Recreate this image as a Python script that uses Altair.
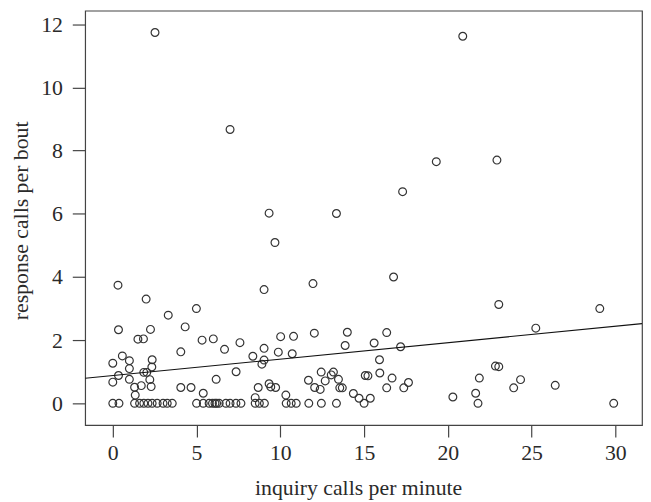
import altair as alt
import pandas as pd

# inquiry calls per minute (x) and response calls per bout (y)
x_vals = [
    0.31, 1.99, 3.31, 4.99, 0.34, 2.25, 1.50, 1.83, 4.32, 5.33, 6.00, 6.67, 4.06, 0.57, 0.00,
    0.99, 2.35, 0.99, 2.33, 1.85, 2.03, 0.34, 0.00, 0.99, 2.21, 1.30, 1.70, 2.29, 1.34, 4.06,
    4.67, 5.40, 6.17,
    9.03, 11.95, 7.59, 10.02, 10.79, 12.03, 14.00, 13.87, 9.03, 8.36, 9.88, 10.71, 9.03, 8.90,
    7.36, 12.44, 13.17, 13.04, 11.68, 12.68, 13.47, 12.05, 12.38, 13.55, 13.70, 15.07, 14.36,
    14.70, 8.68, 9.33, 9.43, 9.72, 8.50, 10.33,
    16.76, 23.04, 16.35, 15.60, 17.18, 15.92, 15.23, 15.94, 16.67, 16.35, 17.37, 17.65, 15.37,
    20.30, 21.66, 21.88, 22.84, 23.04,
    29.07, 25.25, 24.34, 23.93, 26.41,
    2.52, 7.00, 9.33, 13.35, 9.68, 20.89, 19.31, 22.93, 17.30,
    # zero responses
    0.00, 0.37, 1.30, 1.60, 1.85, 2.10, 2.35, 2.65, 3.00, 3.25, 3.55, 5.00, 5.40, 5.75, 5.95,
    6.10, 6.20, 6.35, 6.75, 7.00, 7.35, 7.65, 8.50, 8.75, 9.05, 10.35, 10.65, 10.95, 11.70,
    12.45, 13.35, 15.00, 21.80, 29.90,
]
y_vals = [
    3.74, 3.30, 2.79, 3.00, 2.33, 2.34, 2.03, 2.04, 2.42, 2.00, 2.04, 1.71, 1.63, 1.50, 1.27,
    1.35, 1.38, 1.10, 1.15, 0.98, 0.98, 0.88, 0.67, 0.76, 0.75, 0.51, 0.56, 0.53, 0.26, 0.50,
    0.50, 0.32, 0.76,
    3.60, 3.79, 1.92, 2.11, 2.12, 2.22, 2.25, 1.83, 1.74, 1.49, 1.62, 1.57, 1.37, 1.24,
    1.00, 0.99, 0.99, 0.90, 0.73, 0.71, 0.76, 0.50, 0.44, 0.49, 0.49, 0.88, 0.31,
    0.16, 0.50, 0.62, 0.52, 0.50, 0.18, 0.26,
    4.00, 3.13, 2.24, 1.91, 1.79, 1.38, 0.87, 0.96, 0.80, 0.49, 0.49, 0.66, 0.16,
    0.20, 0.32, 0.80, 1.18, 1.16,
    3.00, 2.38, 0.75, 0.49, 0.57,
    11.74, 8.67, 6.02, 6.01, 5.09, 11.62, 7.65, 7.70, 6.70,
    0, 0, 0, 0, 0, 0, 0, 0, 0, 0, 0, 0, 0, 0, 0,
    0, 0, 0, 0, 0, 0, 0, 0, 0, 0, 0, 0, 0,
    0, 0, 0, 0, 0, 0,
]

x_ticks = [0, 5, 10, 15, 20, 25, 30]
y_ticks = [0, 2, 4, 6, 8, 10, 12]
x_domain = [-1.65, 31.59]
y_domain = [-0.69, 12.43]

fit_intercept = 0.88
fit_slope = 0.052

pts = pd.DataFrame({"x": x_vals, "y": y_vals})
fit = pd.DataFrame({
    "x": x_domain,
    "y": [fit_intercept + fit_slope * v for v in x_domain],
})

serif = "Liberation Serif"
ink = "#2a2a2a"

xs = alt.Scale(domain=x_domain, nice=False, zero=False)
ys = alt.Scale(domain=y_domain, nice=False, zero=False)

x_axis = alt.Axis(
    title="inquiry calls per minute", values=x_ticks, grid=False, domain=False,
    tickSize=12, tickWidth=1.2, tickColor="#444", labelPadding=6,
    labelFont=serif, labelFontSize=22, labelColor=ink,
    titleFont=serif, titleFontSize=22, titleFontWeight="normal", titleColor=ink,
    titleX=276, titleY=70, titleBaseline="alphabetic",
)
y_axis = alt.Axis(
    title="response calls per bout", values=y_ticks, grid=False, domain=False,
    tickSize=13, tickWidth=1.2, tickColor="#444", labelPadding=10,
    labelFont=serif, labelFontSize=22, labelColor=ink,
    titleFont=serif, titleFontSize=22, titleFontWeight="normal", titleColor=ink,
    titleX=-58, titleY=212, titleBaseline="alphabetic", titleAngle=-90,
)

points = alt.Chart(pts).mark_point(
    shape="circle", filled=False, size=62, stroke="#333", strokeWidth=1.2, opacity=1
).encode(
    x=alt.X("x:Q", scale=xs, axis=x_axis),
    y=alt.Y("y:Q", scale=ys, axis=y_axis),
)

line = alt.Chart(fit).mark_line(color="#111", strokeWidth=1.1, clip=True).encode(
    x=alt.X("x:Q", scale=xs),
    y=alt.Y("y:Q", scale=ys),
)

chart = alt.layer(points, line).properties(
    width=563, height=419,
    autosize=alt.AutoSizeParams(type="none"),
    padding={"left": 78, "top": 0, "right": 1, "bottom": 74},
).configure_view(stroke="#444", strokeWidth=1.2)

chart.save("out.html", embed_options={"renderer": "svg", "actions": False})
